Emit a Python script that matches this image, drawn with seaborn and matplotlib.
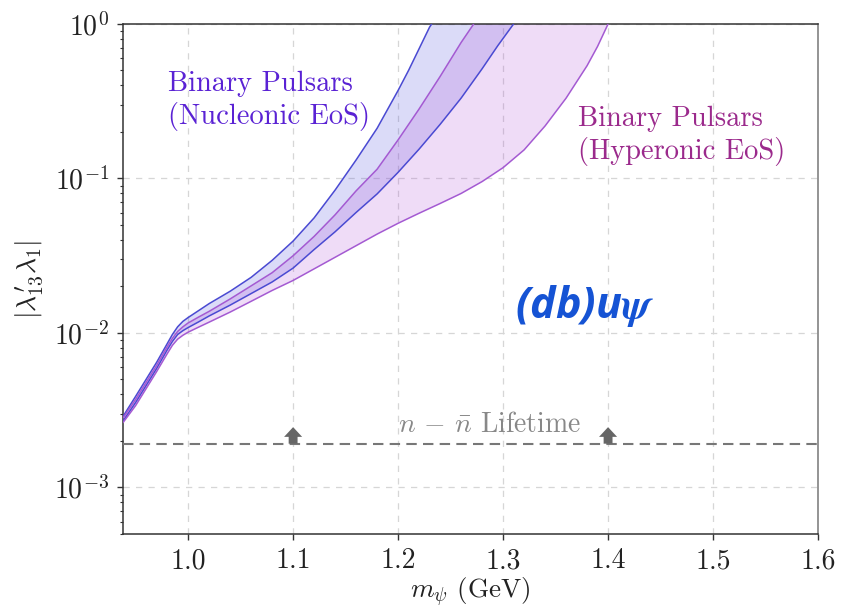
import matplotlib
matplotlib.use("Agg")
import matplotlib.pyplot as plt
import numpy as np
import pandas as pd
import seaborn as sns

# ---------------- data ----------------
nuc_upper_x = [0.938, 0.95, 0.96, 0.97, 0.98, 0.985, 0.99, 0.995, 1.00, 1.01, 1.02, 1.04, 1.06,
               1.08, 1.10, 1.12, 1.14, 1.16, 1.18, 1.20, 1.21, 1.22, 1.23, 1.232]
nuc_upper_y = [2.884e-3, 3.890e-3, 5.012e-3, 6.457e-3, 8.511e-3, 9.772e-3, 1.096e-2, 1.189e-2,
               1.259e-2, 1.396e-2, 1.549e-2, 1.862e-2, 2.291e-2, 2.951e-2, 3.936e-2, 5.559e-2,
               8.414e-2, 0.1318, 0.2113, 0.3715, 0.5012, 0.6918, 0.9550, 1.0]

nuc_lower_x = [0.938, 0.95, 0.96, 0.97, 0.98, 0.985, 0.99, 0.995, 1.00, 1.01, 1.02, 1.04, 1.06,
               1.08, 1.10, 1.12, 1.14, 1.16, 1.18, 1.20, 1.22, 1.24, 1.26, 1.28, 1.295, 1.31]
nuc_lower_y = [2.692e-3, 3.548e-3, 4.571e-3, 5.888e-3, 7.762e-3, 8.810e-3, 9.772e-3, 1.035e-2,
               1.084e-2, 1.180e-2, 1.288e-2, 1.514e-2, 1.799e-2, 2.138e-2, 2.630e-2, 3.467e-2,
               4.519e-2, 6.026e-2, 7.943e-2, 0.1096, 0.1549, 0.2239, 0.3311, 0.5129, 0.7244, 1.0]

hyp_upper_x = [0.938, 0.95, 0.96, 0.97, 0.98, 0.985, 0.99, 0.995, 1.00, 1.01, 1.02, 1.04, 1.06,
               1.08, 1.10, 1.12, 1.14, 1.16, 1.18, 1.20, 1.22, 1.24, 1.26, 1.272]
hyp_upper_y = [2.818e-3, 3.715e-3, 4.786e-3, 6.166e-3, 8.128e-3, 9.226e-3, 1.023e-2, 1.096e-2,
               1.161e-2, 1.268e-2, 1.380e-2, 1.660e-2, 2.018e-2, 2.455e-2, 3.162e-2, 4.217e-2,
               5.821e-2, 8.318e-2, 0.1148, 0.1778, 0.2818, 0.4571, 0.7586, 1.0]

hyp_lower_x = [0.938, 0.95, 0.96, 0.97, 0.98, 0.985, 0.99, 0.995, 1.00, 1.01, 1.02, 1.04, 1.06,
               1.08, 1.10, 1.12, 1.14, 1.16, 1.18, 1.20, 1.22, 1.24, 1.26, 1.28, 1.30, 1.32,
               1.34, 1.36, 1.38, 1.39, 1.40]
hyp_lower_y = [2.630e-3, 3.388e-3, 4.365e-3, 5.623e-3, 7.328e-3, 8.318e-3, 9.120e-3, 9.661e-3,
               1.012e-2, 1.091e-2, 1.175e-2, 1.365e-2, 1.603e-2, 1.884e-2, 2.188e-2, 2.600e-2,
               3.090e-2, 3.673e-2, 4.365e-2, 5.129e-2, 5.957e-2, 6.887e-2, 7.998e-2, 9.550e-2,
               0.1175, 0.1531, 0.2188, 0.3311, 0.5370, 0.7161, 1.0]

nnbar_limit = 1.92e-3
arrow_x = [1.1, 1.4]
x_ticks = [1.0, 1.1, 1.2, 1.3, 1.4, 1.5, 1.6]
x_tick_labels = ["1.0", "1.1", "1.2", "1.3", "1.4", "1.5", "1.6"]

# ---------------- style ----------------
sns.set_theme(style="white")
plt.rcParams["font.family"] = ["cmr10", "DejaVu Serif"]
plt.rcParams["mathtext.fontset"] = "cm"
plt.rcParams["axes.formatter.use_mathtext"] = True
plt.rcParams["axes.unicode_minus"] = False

fig = plt.figure(figsize=(8.41, 6.12), dpi=100)
ax = fig.add_axes([0.1463, 0.1275, 0.8264, 0.8333])

nuc_line = "#4a4ad2"
hyp_line = "#a45ad2"
nuc_fill = "#4b4bdc"
hyp_fill = "#b050d8"

# bands
ax.fill(nuc_upper_x + nuc_lower_x[::-1], nuc_upper_y + nuc_lower_y[::-1],
        color=nuc_fill, alpha=0.2, lw=0, zorder=2)
ax.fill(hyp_upper_x + hyp_lower_x[::-1], hyp_upper_y + hyp_lower_y[::-1],
        color=hyp_fill, alpha=0.2, lw=0, zorder=2)

curves = pd.concat([
    pd.DataFrame({"x": nuc_upper_x, "y": nuc_upper_y, "curve": "nu"}),
    pd.DataFrame({"x": nuc_lower_x, "y": nuc_lower_y, "curve": "nl"}),
    pd.DataFrame({"x": hyp_upper_x, "y": hyp_upper_y, "curve": "hu"}),
    pd.DataFrame({"x": hyp_lower_x, "y": hyp_lower_y, "curve": "hl"}),
])
sns.lineplot(data=curves, x="x", y="y", hue="curve", sort=False, estimator=None,
             palette={"nu": nuc_line, "nl": nuc_line, "hu": hyp_line, "hl": hyp_line},
             linewidth=1.1, legend=False, ax=ax, zorder=3)

# n-nbar limit line
ax.axhline(nnbar_limit, color="#777777", lw=1.5, ls=(0, (5, 3)), zorder=3)
for xa in arrow_x:
    ax.annotate("", xy=(xa, nnbar_limit * 1.28), xytext=(xa, nnbar_limit),
                arrowprops=dict(arrowstyle="simple,head_length=0.35,head_width=0.65,tail_width=0.32",
                                color="#666666", lw=0, shrinkA=0, shrinkB=0,
                                mutation_scale=20), zorder=4)

ax.set_yscale("log")
ax.set_xlim(0.938, 1.6)
ax.set_ylim(5.0e-4, 1.0)
ax.set_xticks(x_ticks)
ax.set_xticklabels(x_tick_labels)
ax.set_yticks([1e-3, 1e-2, 1e-1, 1e0])

ax.grid(True, which="major", color="#d6d6d6", ls=(0, (5, 5)), lw=0.9)
ax.tick_params(axis="both", which="major", direction="out", length=4, width=1,
               labelsize=20, colors="#333333", labelcolor="#222222", pad=6)
ax.tick_params(axis="y", which="minor", direction="out", length=2.5, width=0.8,
               colors="#333333", left=True)
ax.tick_params(bottom=True, left=True, top=False, right=False)
for s in ax.spines.values():
    s.set_color("#333333")
    s.set_linewidth(1.1)
ax.spines["right"].set_color("#777777")

ax.set_xlabel(r"$m_\psi$ (GeV)", fontsize=19.5, color="#222222", labelpad=1)
ax.set_ylabel(r"$|\lambda^{\prime}_{13}\lambda_1|$", fontsize=20, color="#222222", labelpad=6)

# annotations
ax.text(0.981, 0.318, "Binary Pulsars\n(Nucleonic EoS)", fontsize=20.5, color="#5a22d4",
        ha="left", va="center", linespacing=1.25, zorder=5)
ax.text(1.371, 0.189, "Binary Pulsars\n(Hyperonic EoS)", fontsize=20.5, color="#9b2a8c",
        ha="left", va="center", linespacing=1.25, zorder=5)
ax.text(1.378, 0.0150, r"(db)u$\boldsymbol{\psi}$", fontsize=31, color="#1553d4",
        ha="center", va="center", family=["Open Sans", "DejaVu Sans"],
        fontweight="bold", fontstyle="italic", zorder=5)
ax.text(1.287, 2.55e-3, r"$n\,-\,\bar{n}$ Lifetime", fontsize=20, color="#888888",
        ha="center", va="center", zorder=5)

fig.savefig("out.png", dpi=100)
